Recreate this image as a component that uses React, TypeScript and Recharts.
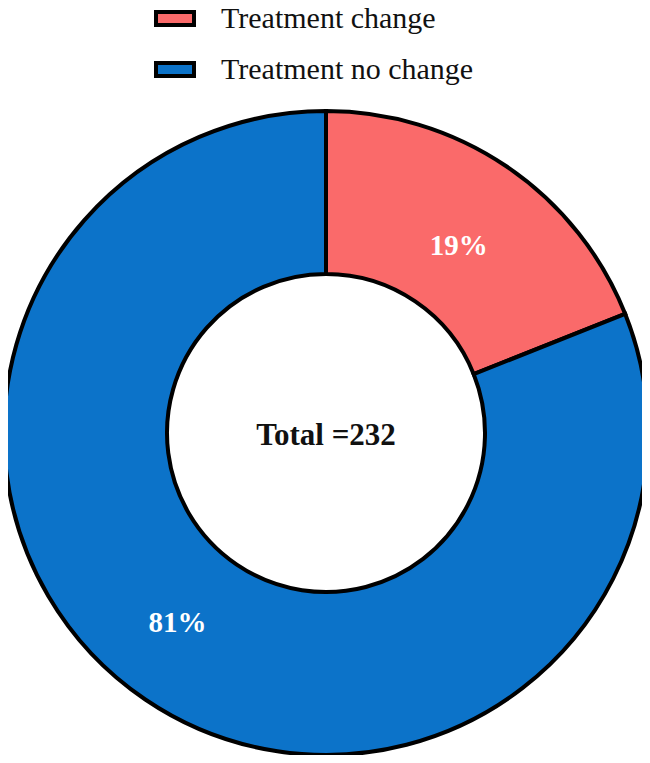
import { PieChart, Pie, Cell, Legend } from "recharts";

const categories = ["Treatment change", "Treatment no change"];
const counts = [44, 188];
const colors = ["#FA6A6A", "#0C73C9"];
const total = 232;

const data = categories.map((name, i) => ({ name, value: counts[i] }));

const RAD = Math.PI / 180;
// small nudges so labels sit where the original put them
const labelAngleShift = [-1, -4];
const labelRadiusShift = [-10, 0];

function renderLabel(props: any) {
  const { cx, cy, midAngle, innerRadius, outerRadius, percent, index } = props;
  const r = (innerRadius + outerRadius) / 2 + labelRadiusShift[index];
  const a = midAngle + labelAngleShift[index];
  const x = cx + r * Math.cos(-a * RAD);
  const y = cy + r * Math.sin(-a * RAD);
  return (
    <text
      x={x}
      y={y}
      fill="#fff"
      textAnchor="middle"
      dominantBaseline="central"
      fontFamily="Liberation Serif"
      fontWeight={700}
      fontSize={29}
    >
      {Math.round(percent * 100)}%
    </text>
  );
}

function LegendBox({ payload }: any) {
  return (
    <div style={{ fontFamily: "Liberation Serif", fontSize: 30, color: "#111", lineHeight: "36px" }}>
      {(payload || []).map((p: any, i: number) => (
        <div
          key={i}
          style={{ display: "flex", alignItems: "center", height: 36, marginBottom: i === 0 ? 15 : 0 }}
        >
          <div
            style={{
              width: 34,
              height: 9,
              background: p.color,
              border: "4px solid #000",
              marginRight: 25,
            }}
          />
          <span>{p.value}</span>
        </div>
      ))}
    </div>
  );
}

export default function App() {
  return (
    <div style={{ width: 650, height: 763, background: "#fff", margin: -8 }}>
      <PieChart width={650} height={763} margin={{ top: 0, right: 0, bottom: 0, left: 0 }}>
        <Legend
          verticalAlign="middle"
          align="center"
          layout="vertical"
          content={<LegendBox />}
          wrapperStyle={{ top: 0, left: 154, width: 420 }}
        />
        <Pie
          data={data}
          dataKey="value"
          nameKey="name"
          cx={326}
          cy={433}
          innerRadius={159}
          outerRadius={322}
          startAngle={90}
          endAngle={-270}
          stroke="#000"
          strokeWidth={4}
          label={renderLabel}
          labelLine={false}
          isAnimationActive={false}
        >
          {data.map((d, i) => (
            <Cell key={d.name} fill={colors[i]} />
          ))}
        </Pie>
        <text
          x={326}
          y={434}
          textAnchor="middle"
          dominantBaseline="central"
          fontFamily="Liberation Serif"
          fontWeight={700}
          fontSize={31}
          fill="#111"
        >
          Total ={total}
        </text>
      </PieChart>
    </div>
  );
}
